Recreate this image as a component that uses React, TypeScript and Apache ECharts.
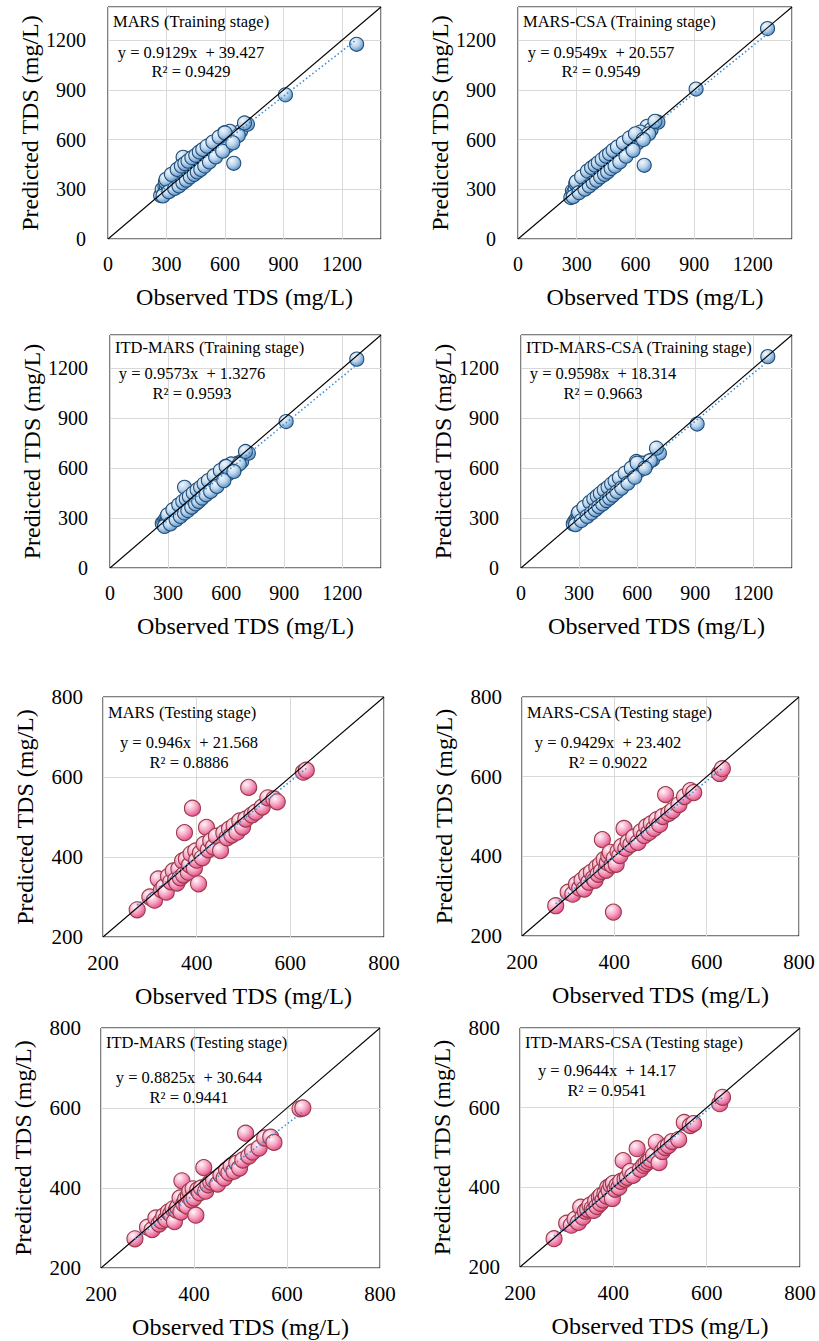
import React, { useEffect, useRef } from "react";
import * as echarts from "echarts";

// ---------- DATA ----------
const TRAIN_OBS = [270, 278, 285, 292, 300, 305, 310, 318, 322, 330, 335, 340, 345, 350, 352, 358, 362, 368, 372, 375, 380, 385, 388, 392, 396, 400, 404, 408, 412, 415, 420, 424, 428, 432, 436, 440, 444, 448, 452, 456, 460, 465, 470, 474, 478, 482, 488, 492, 498, 504, 510, 516, 522, 528, 535, 542, 548, 556, 565, 575, 585, 596, 605, 618, 632, 645, 660, 680, 715, 910, 1275,
  295, 315, 328, 338, 348, 356, 366, 378, 390, 398, 406, 418, 426, 438, 446, 454, 463, 472, 484, 495, 506, 518, 532, 545, 560, 578, 592, 610, 625, 668,
  282, 298, 312, 325, 342, 355, 364, 376, 384, 394, 402, 410, 422, 430, 442, 450, 458, 468, 476, 486, 496, 508, 520, 538, 552, 570, 588, 600, 640, 700];

const MARS_TRAIN = [262, 300, 270, 318, 305, 330, 296, 325, 345, 312, 352, 330, 365, 340, 372, 350, 380, 345, 392, 362, 400, 493, 372, 420, 385, 405, 430, 378, 418, 440, 395, 455, 410, 468, 420, 445, 398, 472, 430, 490, 445, 470, 432, 500, 455, 480, 462, 510, 475, 525, 490, 530, 500, 545, 515, 560, 528, 570, 540, 585, 548, 640, 592, 575, 615, 457, 628, 650, 692, 870, 1175,
  345, 290, 380, 315, 395, 330, 420, 345, 440, 365, 455, 380, 475, 395, 490, 410, 505, 430, 520, 455, 540, 470, 565, 500, 590, 530, 615, 560, 650, 625,
  260, 360, 285, 390, 305, 420, 320, 440, 340, 455, 355, 470, 375, 490, 390, 505, 405, 525, 420, 540, 440, 560, 465, 585, 495, 615, 530, 640, 580, 700];

const MARS_CSA_TRAIN = [250, 290, 282, 300, 345, 315, 300, 330, 340, 322, 350, 335, 362, 345, 372, 355, 378, 360, 392, 370, 395, 420, 378, 410, 390, 405, 420, 392, 418, 432, 405, 450, 415, 460, 425, 445, 420, 470, 438, 485, 450, 468, 445, 495, 460, 480, 470, 505, 480, 515, 500, 525, 505, 540, 520, 548, 535, 560, 545, 580, 560, 600, 590, 600, 625, 445, 680, 660, 705, 905, 1270,
  335, 290, 365, 315, 385, 335, 405, 355, 425, 370, 445, 390, 460, 405, 480, 425, 495, 440, 515, 460, 535, 480, 560, 505, 585, 545, 615, 580, 645, 635,
  255, 345, 280, 375, 300, 410, 320, 430, 340, 445, 355, 460, 375, 480, 390, 500, 405, 515, 425, 535, 440, 555, 465, 580, 500, 610, 535, 635, 600, 710];

const ITD_MARS_TRAIN = [268, 275, 290, 285, 300, 295, 310, 305, 320, 318, 325, 330, 360, 335, 345, 340, 355, 335, 362, 360, 370, 485, 372, 378, 382, 390, 392, 385, 398, 400, 402, 410, 395, 420, 415, 425, 418, 435, 430, 470, 440, 448, 450, 460, 455, 465, 470, 460, 478, 492, 485, 500, 495, 510, 505, 520, 515, 530, 528, 548, 540, 610, 582, 600, 615, 600, 630, 640, 690, 880, 1255,
  310, 285, 345, 300, 360, 320, 380, 340, 400, 360, 415, 378, 435, 395, 455, 410, 470, 425, 490, 445, 510, 465, 535, 490, 560, 535, 590, 565, 625, 625,
  250, 320, 265, 350, 290, 380, 310, 400, 330, 415, 345, 430, 365, 450, 385, 470, 400, 485, 420, 505, 440, 525, 460, 555, 490, 585, 525, 610, 580, 700];

const ITD_MARS_CSA_TRAIN = [265, 280, 292, 290, 310, 300, 318, 315, 330, 325, 340, 338, 350, 345, 360, 352, 368, 360, 375, 372, 382, 390, 385, 400, 392, 405, 410, 398, 418, 420, 415, 432, 420, 445, 430, 440, 432, 455, 445, 470, 452, 462, 458, 480, 468, 478, 482, 498, 490, 512, 500, 520, 510, 535, 522, 545, 535, 560, 550, 575, 565, 640, 590, 605, 620, 615, 640, 650, 690, 865, 1270,
  325, 295, 355, 320, 375, 340, 395, 360, 415, 380, 430, 398, 450, 415, 465, 432, 485, 448, 505, 470, 525, 490, 550, 515, 575, 550, 605, 585, 630, 645,
  260, 335, 285, 365, 310, 395, 330, 415, 350, 432, 368, 448, 385, 468, 405, 485, 420, 505, 438, 522, 458, 542, 480, 570, 510, 600, 545, 630, 600, 720];

const TEST_OBS = [273, 300, 310, 318, 325, 330, 335, 340, 345, 350, 355, 358, 362, 365, 370, 372, 374, 378, 382, 385, 388, 391, 395, 398, 400, 404, 408, 412, 416, 421, 425, 430, 436, 442, 451, 458, 465, 470, 475, 480, 486, 492, 498, 505, 511, 518, 526, 540, 552, 565, 572, 628, 634];

const MARS_TEST = [268, 300, 292, 345, 318, 325, 312, 352, 338, 365, 342, 335, 370, 348, 390, 355, 461, 395, 362, 380, 408, 522, 372, 415, 392, 333, 410, 398, 432, 474, 418, 440, 425, 452, 416, 460, 448, 470, 455, 478, 462, 490, 475, 495, 574, 505, 512, 525, 548, 545, 538, 612, 617];

const MARS_CSA_TEST = [276, 310, 305, 330, 320, 340, 318, 352, 335, 360, 345, 340, 372, 355, 380, 362, 442, 392, 365, 384, 400, 410, 378, 260, 395, 380, 412, 402, 425, 470, 420, 436, 430, 448, 435, 462, 452, 475, 460, 482, 470, 492, 480, 500, 555, 508, 515, 530, 550, 565, 560, 608, 620];

const ITD_MARS_TEST = [273, 302, 296, 325, 310, 318, 330, 322, 340, 335, 348, 316, 345, 352, 375, 340, 418, 360, 372, 355, 380, 392, 370, 398, 375, 332, 395, 388, 400, 451, 392, 408, 415, 420, 410, 432, 425, 445, 438, 455, 442, 462, 450, 470, 537, 480, 490, 500, 525, 527, 514, 598, 600];

const ITD_MARS_CSA_TEST = [271, 310, 305, 320, 312, 350, 325, 340, 345, 355, 348, 342, 365, 352, 375, 360, 380, 368, 385, 378, 400, 392, 405, 372, 410, 395, 405, 400, 415, 467, 420, 425, 440, 430, 497, 445, 455, 460, 465, 470, 480, 513, 462, 490, 500, 505, 515, 520, 563, 555, 560, 610, 626];

const PANEL_TITLES = [
  "MARS (Training stage)",
  "MARS-CSA (Training stage)",
  "ITD-MARS (Training stage)",
  "ITD-MARS-CSA (Training stage)",
  "MARS (Testing stage)",
  "MARS-CSA (Testing stage)",
  "ITD-MARS (Testing stage)",
  "ITD-MARS-CSA (Testing stage)",
];
const SLOPES = [0.9129, 0.9549, 0.9573, 0.9598, 0.946, 0.9429, 0.8825, 0.9644];
const INTERCEPTS = [39.427, 20.557, 1.3276, 18.314, 21.568, 23.402, 30.644, 14.17];
const EQ_LABELS = [
  "y = 0.9129x  + 39.427",
  "y = 0.9549x  + 20.557",
  "y = 0.9573x  + 1.3276",
  "y = 0.9598x  + 18.314",
  "y = 0.946x  + 21.568",
  "y = 0.9429x  + 23.402",
  "y = 0.8825x  + 30.644",
  "y = 0.9644x  + 14.17",
];
const R2_LABELS = ["R² = 0.9429", "R² = 0.9549", "R² = 0.9593", "R² = 0.9663", "R² = 0.8886", "R² = 0.9022", "R² = 0.9441", "R² = 0.9541"];
const X_TITLE = "Observed TDS (mg/L)";
const Y_TITLE = "Predicted TDS (mg/L)";

const TRAIN_AXIS = { min: 0, max: 1400, interval: 300 };
const TEST_AXIS = { min: 200, max: 800, interval: 200 };

const PREDICTIONS = [MARS_TRAIN, MARS_CSA_TRAIN, ITD_MARS_TRAIN, ITD_MARS_CSA_TRAIN, MARS_TEST, MARS_CSA_TEST, ITD_MARS_TEST, ITD_MARS_CSA_TEST];

// ---------- LAYOUT ----------
const LAYOUT = [
  { left: 108, top: 7, width: 273, height: 232, t: 15, e: 45, r: 64, cx: 83 },
  { left: 518, top: 7, width: 274, height: 232, t: 15, e: 45, r: 64, cx: 83 },
  { left: 110, top: 335, width: 271, height: 233, t: 13, e: 38, r: 58, cx: 82 },
  { left: 521, top: 335, width: 271, height: 233, t: 13, e: 38, r: 58, cx: 82 },
  { left: 103, top: 697, width: 281, height: 240, t: 16, e: 45, r: 65, cx: 86 },
  { left: 522, top: 697, width: 277, height: 239, t: 16, e: 45, r: 65, cx: 86 },
  { left: 101, top: 1028, width: 279, height: 240, t: 15, e: 49, r: 69, cx: 88 },
  { left: 520, top: 1028, width: 280, height: 239, t: 15, e: 42, r: 62, cx: 87 },
];

const FONT = "Liberation Serif";

export default function App() {
  const ref = useRef<HTMLDivElement>(null);

  useEffect(() => {
    if (!ref.current) return;
    const chart = echarts.init(ref.current, undefined, { renderer: "svg" });

    const grids: any[] = [];
    const xAxes: any[] = [];
    const yAxes: any[] = [];
    const series: any[] = [];
    const graphics: any[] = [];

    for (let i = 0; i < 8; i++) {
      const train = i < 4;
      const L = LAYOUT[i];
      const ax = train ? TRAIN_AXIS : TEST_AXIS;
      const obs = train ? TRAIN_OBS : TEST_OBS;
      const pred = PREDICTIONS[i];
      const tickSize = train ? 20 : 21;

      grids.push({
        left: L.left,
        top: L.top,
        width: L.width,
        height: L.height,
        show: true,
        borderColor: "#000",
        borderWidth: 1,
        backgroundColor: "#fff",
      });

      const axisCommon = {
        gridIndex: i,
        type: "value",
        min: ax.min,
        max: ax.max,
        interval: ax.interval,
        axisLine: { show: false },
        axisTick: { show: false },
        splitLine: { show: true, lineStyle: { color: "#d9d9d9", width: 1 } },
        nameLocation: "middle",
        nameTextStyle: { fontFamily: FONT, fontSize: 24, color: "#000" },
      };

      const labelCommon = {
        fontFamily: FONT,
        fontSize: tickSize,
        color: "#000",
        showMaxLabel: !train,
        formatter: (v: number) => String(v),
      };

      xAxes.push({
        ...axisCommon,
        name: X_TITLE,
        nameGap: train ? 46 : 47,
        axisLabel: { ...labelCommon, margin: 15 },
      });
      yAxes.push({
        ...axisCommon,
        name: Y_TITLE,
        nameGap: train ? 64 : 66,
        axisLabel: { ...labelCommon, margin: train ? 22 : 20 },
      });

      const fill = train
        ? {
            type: "radial",
            x: 0.35,
            y: 0.3,
            r: 0.75,
            colorStops: [
              { offset: 0, color: "#f2f7fc" },
              { offset: 0.5, color: "#bcd5ec" },
              { offset: 1, color: "#5a90c6" },
            ],
          }
        : {
            type: "radial",
            x: 0.35,
            y: 0.3,
            r: 0.75,
            colorStops: [
              { offset: 0, color: "#fff6fa" },
              { offset: 0.5, color: "#f6a9c7" },
              { offset: 1, color: "#e54a85" },
            ],
          };

      series.push({
        type: "scatter",
        xAxisIndex: i,
        yAxisIndex: i,
        symbol: "circle",
        symbolSize: train ? 14 : 16,
        data: obs.map((x, j) => [x, pred[j]]),
        itemStyle: {
          color: fill,
          borderColor: train ? "#1f4e79" : "#983a48",
          borderWidth: 1.1,
          opacity: 1,
        },
        z: 2,
      });

      // 1:1 reference line
      series.push({
        type: "line",
        xAxisIndex: i,
        yAxisIndex: i,
        data: [
          [ax.min, ax.min],
          [ax.max, ax.max],
        ],
        symbol: "none",
        lineStyle: { color: "#000", width: 1.1 },
        z: 3,
      });

      // linear trend line from the fitted equation
      const xs = Math.min(...obs);
      const xe = Math.max(...obs);
      series.push({
        type: "line",
        xAxisIndex: i,
        yAxisIndex: i,
        data: [
          [xs, SLOPES[i] * xs + INTERCEPTS[i]],
          [xe, SLOPES[i] * xe + INTERCEPTS[i]],
        ],
        symbol: "none",
        lineStyle: { color: "#3d8fd8", width: 1.6, type: [1.5, 2.5] },
        z: 4,
      });

      graphics.push({
        type: "text",
        left: L.left + 5,
        top: L.top + L.t - 9,
        style: { text: PANEL_TITLES[i], fontFamily: FONT, fontSize: 16.5, fill: "#000" },
        z: 10,
      });
      graphics.push({
        type: "text",
        x: L.left + L.cx,
        y: L.top + L.e,
        style: {
          text: EQ_LABELS[i],
          fontFamily: FONT,
          fontSize: 16.5,
          fill: "#000",
          align: "center",
          verticalAlign: "middle",
        },
        z: 10,
      });
      graphics.push({
        type: "text",
        x: L.left + L.cx,
        y: L.top + L.r,
        style: {
          text: R2_LABELS[i],
          fontFamily: FONT,
          fontSize: 16.5,
          fill: "#000",
          align: "center",
          verticalAlign: "middle",
        },
        z: 10,
      });
    }

    chart.setOption({
      animation: false,
      backgroundColor: "#fff",
      textStyle: { fontFamily: FONT },
      grid: grids,
      xAxis: xAxes,
      yAxis: yAxes,
      series,
      graphic: graphics,
    });

    return () => chart.dispose();
  }, []);

  return (
    <div
      ref={ref}
      style={{ position: "absolute", left: 0, top: 0, width: 819, height: 1341, background: "#fff" }}
    />
  );
}
